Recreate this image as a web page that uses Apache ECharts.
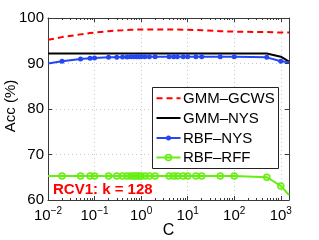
<!DOCTYPE html>
<html>
<head>
<meta charset="utf-8">
<script src="https://cdn.jsdelivr.net/npm/echarts@6/dist/echarts.min.js"></script>
<style>
html,body{margin:0;padding:0;background:#fff;}
#c{width:319px;height:240px;}
</style>
</head>
<body>
<div id="c"></div>
<script>
// ---- data ----
const C = [0.01, 0.02, 0.05, 0.08, 0.1, 0.2, 0.3, 0.4, 0.5, 0.6, 0.7, 0.8, 0.9, 1, 1.2, 1.5, 2, 4, 5, 6, 8, 10, 15, 20, 50, 100, 500, 1000, 1500];
const gmmGcws = [95.2, 95.8, 96.4, 96.7, 96.8, 97.1, 97.25, 97.3, 97.35, 97.4, 97.4, 97.45, 97.45, 97.5, 97.5, 97.5, 97.5, 97.5, 97.45, 97.45, 97.4, 97.4, 97.35, 97.3, 97.1, 97.0, 96.9, 96.8, 96.8];
const gmmNys = [92.2, 92.2, 92.2, 92.2, 92.2, 92.2, 92.2, 92.2, 92.2, 92.2, 92.2, 92.2, 92.2, 92.2, 92.2, 92.2, 92.2, 92.2, 92.2, 92.2, 92.2, 92.2, 92.2, 92.2, 92.2, 92.2, 92.2, 91.5, 90.4];
const rbfNys = [90.0, 90.5, 91.0, 91.15, 91.2, 91.35, 91.4, 91.45, 91.45, 91.5, 91.5, 91.5, 91.5, 91.5, 91.5, 91.5, 91.5, 91.5, 91.5, 91.5, 91.5, 91.5, 91.5, 91.5, 91.5, 91.5, 91.35, 90.5, 90.25];
const rbfRff = [65.3, 65.3, 65.3, 65.3, 65.3, 65.3, 65.3, 65.3, 65.3, 65.3, 65.3, 65.3, 65.3, 65.3, 65.3, 65.3, 65.3, 65.3, 65.3, 65.3, 65.3, 65.3, 65.3, 65.3, 65.3, 65.3, 65.0, 63.1, 61.1];
const seriesNames = ['GMM\u2013GCWS', 'GMM\u2013NYS', 'RBF\u2013NYS', 'RBF\u2013RFF'];
const xMajor = [0.01, 0.1, 1, 10, 100, 1000];
const yTicks = [60, 70, 80, 90, 100];
const annotation = 'RCV1: k = 128';
const yTitle = 'Acc (%)';
const xTitle = 'C';

const xMin = 0.01, xMax = 1500;
const xMinor = [];
for (let d = -2; d <= 3; d++) for (let m = 2; m <= 9; m++) { const v = m * Math.pow(10, d); if (v < xMax) xMinor.push(+v.toPrecision(3)); }

const FONT = 'Liberation Sans, Arial, sans-serif';
const grid = {left: 48, top: 18, width: 241, height: 182, containLabel: false, outerBoundsMode: 'none'};

const colors = ['#ff0000', '#000000', '#2447f5', '#66ee11'];

function mk(vals, hideEnds) {
  return C.map((c, i) => {
    const p = {value: [c, vals[i]]};
    if (hideEnds && (i === 0 || i === C.length - 1)) p.symbol = 'none';
    return p;
  });
}
function sup(v) {
  const e = Math.round(Math.log10(v));
  return '{b|10}{s|' + (e < 0 ? '\u2212' + (-e) : e) + '}';
}
const axisCommon = {type: 'log', logBase: 10, min: xMin, max: xMax, gridIndex: 0};

// legend drawn as graphic (box + samples + text)
const LG = {x: 152, y: 87, w: 126, h: 81, rowY: [98.3, 118, 138, 157.5], x0: 156.5, x1: 180.5, tx: 183};
const legendGraphics = [{
  type: 'rect', shape: {x: LG.x + 0.5, y: LG.y + 0.5, width: LG.w, height: LG.h},
  style: {fill: '#fff', stroke: '#222', lineWidth: 1}, z: 100
}];
seriesNames.forEach((n, i) => {
  const y = LG.rowY[i];
  legendGraphics.push({
    type: 'line', shape: {x1: LG.x0, y1: y, x2: LG.x1, y2: y},
    style: {stroke: colors[i], lineWidth: 2, lineDash: i === 0 ? [6, 4] : null}, z: 101
  });
  if (i === 2) legendGraphics.push({type: 'circle', shape: {cx: (LG.x0 + LG.x1) / 2, cy: y, r: 2.5}, style: {fill: colors[i]}, z: 102});
  if (i === 3) legendGraphics.push({type: 'circle', shape: {cx: (LG.x0 + LG.x1) / 2, cy: y, r: 3}, style: {fill: 'rgba(102,238,17,0.25)', stroke: colors[i], lineWidth: 1.5}, z: 102});
  legendGraphics.push({
    type: 'text', x: LG.tx, y: y + 0.5,
    style: {text: n, fill: '#000', font: '15px ' + FONT, textAlign: 'left', textVerticalAlign: 'middle', verticalAlign: 'middle'}, z: 102
  });
});

const chart = echarts.init(document.getElementById('c'), null, {renderer: 'canvas'});
chart.setOption({
  animation: false,
  backgroundColor: '#fff',
  grid: grid,
  xAxis: [
    Object.assign({}, axisCommon, {
      position: 'bottom',
      axisLine: {show: true, lineStyle: {color: '#3a3a3a', width: 1}},
      axisTick: {show: true, inside: true, length: 4, customValues: xMajor, lineStyle: {color: '#3a3a3a'}},
      axisLabel: {
        customValues: xMajor, margin: 6, formatter: sup,
        rich: {
          b: {fontFamily: FONT, fontSize: 15, color: '#000', verticalAlign: 'bottom', lineHeight: 17},
          s: {fontFamily: FONT, fontSize: 10, color: '#000', verticalAlign: 'top', lineHeight: 17, padding: [0, 0, 8, 0]}
        }
      },
      splitLine: {show: true, lineStyle: {color: '#c8c8c8', type: [1, 3], width: 1}}
    }),
    Object.assign({}, axisCommon, {
      position: 'top',
      axisLine: {show: true, lineStyle: {color: '#3a3a3a', width: 1}},
      axisTick: {show: true, inside: true, length: 4, customValues: xMajor, lineStyle: {color: '#3a3a3a'}},
      axisLabel: {show: false}, splitLine: {show: false}
    }),
    Object.assign({}, axisCommon, {
      position: 'bottom',
      axisLine: {show: false},
      axisTick: {show: true, inside: true, length: 2, customValues: xMinor, lineStyle: {color: '#3a3a3a'}},
      axisLabel: {show: false}, splitLine: {show: false}
    }),
    Object.assign({}, axisCommon, {
      position: 'top',
      axisLine: {show: false},
      axisTick: {show: true, inside: true, length: 2, customValues: xMinor, lineStyle: {color: '#3a3a3a'}},
      axisLabel: {show: false}, splitLine: {show: false}
    })
  ],
  yAxis: [
    {
      type: 'value', min: 60, max: 100, interval: 10, position: 'left',
      axisLine: {show: true, lineStyle: {color: '#3a3a3a', width: 1}},
      axisTick: {show: true, inside: true, length: 4, lineStyle: {color: '#3a3a3a'}},
      axisLabel: {fontFamily: FONT, fontSize: 15, color: '#000', margin: 4,
        formatter: v => yTicks.includes(v) ? String(v) : ''},
      splitLine: {show: true, lineStyle: {color: '#c8c8c8', type: [1, 3], width: 1}}
    },
    {
      type: 'value', min: 60, max: 100, interval: 10, position: 'right',
      axisLine: {show: true, lineStyle: {color: '#3a3a3a', width: 1}},
      axisTick: {show: true, inside: true, length: 4, lineStyle: {color: '#3a3a3a'}},
      axisLabel: {show: false}, splitLine: {show: false}
    }
  ],
  graphic: legendGraphics.concat([
    {
      type: 'text', x: 53, y: 190, z: 100,
      style: {text: annotation, fill: '#ff0000', font: 'bold 15px ' + FONT, textAlign: 'left', textVerticalAlign: 'middle', verticalAlign: 'middle'}
    },
    {
      type: 'text', x: 11, y: 106, rotation: Math.PI / 2, z: 100,
      style: {text: yTitle, fill: '#000', font: '15px ' + FONT, textAlign: 'center', textVerticalAlign: 'middle', verticalAlign: 'middle'}
    },
    {
      type: 'text', x: 168.5, y: 231, z: 100,
      style: {text: xTitle, fill: '#000', font: '16px ' + FONT, textAlign: 'center', textVerticalAlign: 'middle', verticalAlign: 'middle'}
    }
  ]),
  series: [
    {
      name: seriesNames[0], type: 'line', xAxisIndex: 0, yAxisIndex: 0,
      data: mk(gmmGcws, true), showSymbol: false, symbol: 'none',
      lineStyle: {color: colors[0], width: 2, type: [6, 4]},
      itemStyle: {color: colors[0]}
    },
    {
      name: seriesNames[1], type: 'line', xAxisIndex: 0, yAxisIndex: 0,
      data: mk(gmmNys, true), symbol: 'none',
      lineStyle: {color: colors[1], width: 2},
      itemStyle: {color: colors[1]}
    },
    {
      name: seriesNames[2], type: 'line', xAxisIndex: 0, yAxisIndex: 0,
      data: mk(rbfNys, true), symbol: 'circle', symbolSize: 5,
      lineStyle: {color: colors[2], width: 2},
      itemStyle: {color: colors[2]}
    },
    {
      name: seriesNames[3], type: 'line', xAxisIndex: 0, yAxisIndex: 0,
      data: mk(rbfRff, true), symbol: 'circle', symbolSize: 6,
      lineStyle: {color: colors[3], width: 2},
      itemStyle: {color: 'rgba(102,238,17,0.25)', borderColor: colors[3], borderWidth: 1.5}
    }
  ]
});
</script>
</body>
</html>
